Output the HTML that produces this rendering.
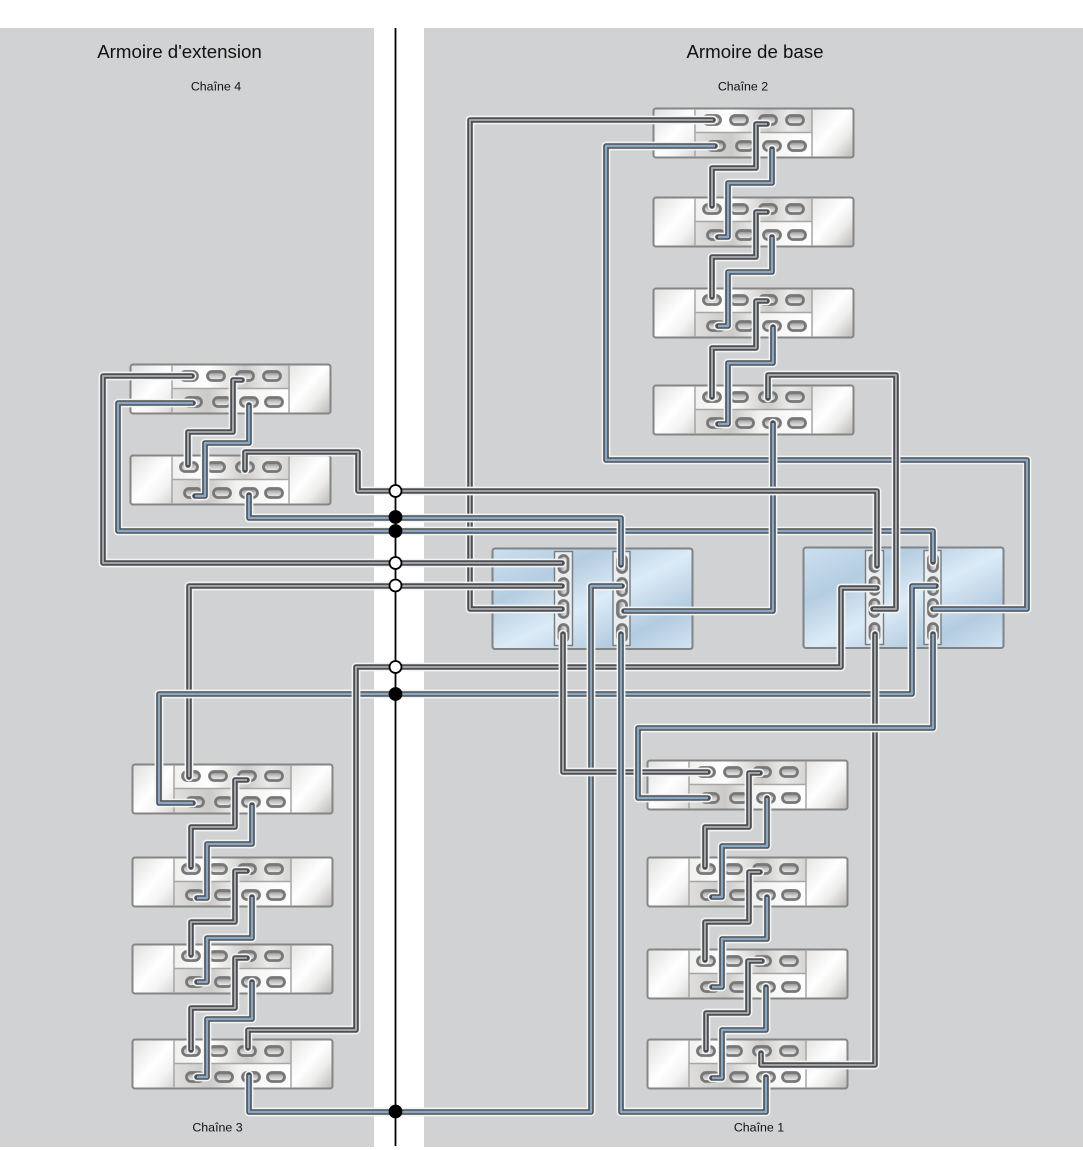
<!DOCTYPE html>
<html><head><meta charset="utf-8">
<style>
html,body{margin:0;padding:0;background:#fff}
svg{display:block}
text{font-family:"Liberation Sans",sans-serif;fill:#111}
.h,.d,.g,.b{fill:none;stroke-linejoin:round;stroke-linecap:round}
.h{stroke:#f2f3f3;stroke-width:8.8}
.d{stroke:#4c4f54;stroke-width:5.6}
.g{stroke:#aeafb2;stroke-width:1.8;stroke-linecap:butt}
.b{stroke:#8aa8c3;stroke-width:2.4;stroke-linecap:butt}
</style></head><body>
<svg width="1083" height="1150" viewBox="0 0 1083 1150" xmlns="http://www.w3.org/2000/svg">
<defs>
<linearGradient id="sl" x1="0" y1="0" x2="1" y2="1">
<stop offset="0" stop-color="#dededd"/><stop offset=".5" stop-color="#fff"/><stop offset=".72" stop-color="#f4f4f4"/><stop offset="1" stop-color="#d2d2d1"/>
</linearGradient>
<linearGradient id="sr" x1="0" y1="0" x2="1" y2="1">
<stop offset="0" stop-color="#e4e4e3"/><stop offset=".45" stop-color="#fff"/><stop offset=".68" stop-color="#ededec"/><stop offset="1" stop-color="#b9b8b6"/>
</linearGradient>
<linearGradient id="md" x1="0" y1="0" x2="1" y2="0">
<stop offset="0" stop-color="#f0f0ef"/><stop offset=".3" stop-color="#fff"/><stop offset=".62" stop-color="#cdccca"/><stop offset=".8" stop-color="#eaeae9"/><stop offset="1" stop-color="#d6d5d3"/>
</linearGradient>
<linearGradient id="md2" x1="0" y1="0" x2="1" y2="0">
<stop offset="0" stop-color="#dfdedc"/><stop offset=".3" stop-color="#cbcac8"/><stop offset=".55" stop-color="#f2f2f1"/><stop offset="1" stop-color="#fff"/>
</linearGradient>
<linearGradient id="bl" x1="0" y1="0" x2="1" y2="1">
<stop offset="0" stop-color="#cbe0f1"/><stop offset=".28" stop-color="#b5cde1"/><stop offset=".52" stop-color="#dcebf7"/><stop offset=".78" stop-color="#b3cbe0"/><stop offset="1" stop-color="#d2e4f3"/>
</linearGradient>
<linearGradient id="pt" x1="0" y1="0" x2="0" y2="1">
<stop offset="0" stop-color="#7d7d7d"/><stop offset=".45" stop-color="#c4c4c4"/><stop offset="1" stop-color="#f4f4f4"/>
</linearGradient>
<linearGradient id="pv" x1="0" y1="0" x2="1" y2="0">
<stop offset="0" stop-color="#7d7d7d"/><stop offset=".5" stop-color="#c4c4c4"/><stop offset="1" stop-color="#f4f4f4"/>
</linearGradient>
<rect id="ph" x="-8.5" y="-4.5" width="17" height="9" rx="4.5" fill="url(#pt)" stroke="#777" stroke-width="2.8"/>
<rect id="pw" x="-4.5" y="-8.5" width="9" height="17" rx="4.5" fill="url(#pv)" stroke="#777" stroke-width="2.8"/>
<g id="unit">
<rect x="0.5" y="0.5" width="42.5" height="49" fill="url(#sl)"/>
<rect x="159" y="0.5" width="41.5" height="49" fill="url(#sr)"/>
<rect x="43" y="0.5" width="116" height="24.5" fill="url(#md)"/>
<rect x="43" y="25" width="116" height="24.5" fill="url(#md2)"/>
<rect x="0.5" y="0.5" width="200" height="49" rx="2.5" fill="none" stroke="#858585" stroke-width="2"/>
<path d="M42 1V49M159 1V49M42 24.5H159" stroke="#a6a6a6" stroke-width="1.5" fill="none"/>
<use href="#ph" x="59" y="12"/><use href="#ph" x="86" y="12"/><use href="#ph" x="115" y="12"/><use href="#ph" x="142" y="12"/>
<use href="#ph" x="63" y="38"/><use href="#ph" x="92" y="38"/><use href="#ph" x="119" y="38"/><use href="#ph" x="144" y="38"/>
</g>
<g id="ctrl">
<rect x="0.5" y="0.5" width="200" height="100.5" rx="2.5" fill="url(#bl)" stroke="#7f8386" stroke-width="2"/>
<rect x="62.5" y="3.5" width="18" height="94" fill="#e9edf0" stroke="#767b7f" stroke-width="1.4"/>
<rect x="121" y="3.5" width="17" height="94" fill="#e9edf0" stroke="#767b7f" stroke-width="1.4"/>
<use href="#pw" x="71.5" y="16"/><use href="#pw" x="71.5" y="39"/><use href="#pw" x="71.5" y="61"/><use href="#pw" x="71.5" y="85"/>
<use href="#pw" x="130" y="16"/><use href="#pw" x="130" y="39"/><use href="#pw" x="130" y="61"/><use href="#pw" x="130" y="85"/>
</g>
<path id="c1" d="M713 120H470V609H562"/>
<path id="c2" d="M715 146H606V460H1027V609H933"/>
<path id="c3" d="M767 124H756V168H712V206"/>
<path id="c4" d="M772 149V183H728V237H718"/>
<path id="c5" d="M767 212H756V257H712V297"/>
<path id="c6" d="M772 237V272H728V326H718"/>
<path id="c7" d="M767 301H756V348H712V397"/>
<path id="c8" d="M773 327V363H728V424H718"/>
<path id="c9" d="M768 398V375H896V609H873"/>
<path id="c10" d="M773 423V611H624"/>
<path id="c11" d="M192 376H103V563H562"/>
<path id="c12" d="M193 403H118V531H933V562"/>
<path id="c13" d="M242 380H233V432H188V465"/>
<path id="c14" d="M249 405V443H205V496H195"/>
<path id="c15" d="M245 470V452H358V491H877V566"/>
<path id="c16" d="M249 495V518H621V565"/>
<path id="c17" d="M189 777V586H562"/>
<path id="c18" d="M193 803H159V694H912V586H936"/>
<path id="c19" d="M247 780H235V827H191V867"/>
<path id="c20" d="M252 805V844H207V898H197"/>
<path id="c21" d="M247 871H235V922H191V955"/>
<path id="c22" d="M252 897V938H207V982H197"/>
<path id="c23" d="M247 958H235V1008H191V1050"/>
<path id="c24" d="M252 982V1019H207V1077H197"/>
<path id="c25" d="M248 1048V1030H356V667H841V588H877"/>
<path id="c26" d="M249 1075V1112H591V586H622"/>
<path id="c27" d="M708 772H563V634"/>
<path id="c28" d="M708 798H638V728H933V634"/>
<path id="c29" d="M760 773H749V827H705V867"/>
<path id="c30" d="M767 798V846H722V897H712"/>
<path id="c31" d="M760 872H749V922H705V960"/>
<path id="c32" d="M767 897V939H722V987H712"/>
<path id="c33" d="M762 961H748V1013H706V1050"/>
<path id="c34" d="M766 987V1030H722V1078H712"/>
<path id="c35" d="M761 1053V1065H875V634"/>
<path id="c36" d="M766 1077V1112H621V634"/>
</defs>

<rect x="0" y="28" width="374" height="1119" fill="#d1d2d3"/>
<rect x="424" y="28" width="659" height="1119" fill="#d1d2d3"/>

<text x="179.5" y="58" font-size="18.7" text-anchor="middle">Armoire d'extension</text>
<text x="755" y="58" font-size="18.7" text-anchor="middle">Armoire de base</text>
<text x="216" y="90.5" font-size="12.4" text-anchor="middle">Chaîne 4</text>
<text x="743" y="90.5" font-size="12.4" text-anchor="middle">Chaîne 2</text>
<text x="217.5" y="1131.5" font-size="12.4" text-anchor="middle">Chaîne 3</text>
<text x="759" y="1131.5" font-size="12.4" text-anchor="middle">Chaîne 1</text>

<use href="#unit" x="653" y="108"/>
<use href="#unit" x="653" y="197"/>
<use href="#unit" x="653" y="288"/>
<use href="#unit" x="653" y="385"/>
<use href="#unit" x="130" y="364"/>
<use href="#unit" x="130" y="455"/>
<use href="#unit" x="132" y="764"/>
<use href="#unit" x="132" y="857"/>
<use href="#unit" x="132" y="944"/>
<use href="#unit" x="132" y="1039"/>
<use href="#unit" x="647" y="760"/>
<use href="#unit" x="647" y="857"/>
<use href="#unit" x="647" y="949"/>
<use href="#unit" x="647" y="1039"/>
<use href="#ctrl" x="492" y="548"/>
<use href="#ctrl" x="803" y="547"/>

<use href="#c1" class="h"/><use href="#c1" class="d"/><use href="#c1" class="g"/>
<use href="#c2" class="h"/><use href="#c2" class="d"/><use href="#c2" class="b"/>
<use href="#c11" class="h"/><use href="#c11" class="d"/><use href="#c11" class="g"/>
<use href="#c17" class="h"/><use href="#c17" class="d"/><use href="#c17" class="g"/>
<use href="#c12" class="h"/><use href="#c12" class="d"/><use href="#c12" class="b"/>
<use href="#c18" class="h"/><use href="#c18" class="d"/><use href="#c18" class="b"/>
<use href="#c25" class="h"/><use href="#c25" class="d"/><use href="#c25" class="g"/>
<use href="#c26" class="h"/><use href="#c26" class="d"/><use href="#c26" class="b"/>
<use href="#c27" class="h"/><use href="#c27" class="d"/><use href="#c27" class="g"/>
<use href="#c35" class="h"/><use href="#c35" class="d"/><use href="#c35" class="g"/>
<use href="#c36" class="h"/><use href="#c36" class="d"/><use href="#c36" class="b"/>
<use href="#c28" class="h"/><use href="#c28" class="d"/><use href="#c28" class="b"/>
<use href="#c10" class="h"/><use href="#c10" class="d"/><use href="#c10" class="b"/>
<use href="#c9" class="h"/><use href="#c9" class="d"/><use href="#c9" class="g"/>
<use href="#c15" class="h"/><use href="#c15" class="d"/><use href="#c15" class="g"/>
<use href="#c16" class="h"/><use href="#c16" class="d"/><use href="#c16" class="b"/>
<use href="#c3" class="h"/><use href="#c3" class="d"/><use href="#c3" class="g"/>
<use href="#c4" class="h"/><use href="#c4" class="d"/><use href="#c4" class="b"/>
<use href="#c5" class="h"/><use href="#c5" class="d"/><use href="#c5" class="g"/>
<use href="#c6" class="h"/><use href="#c6" class="d"/><use href="#c6" class="b"/>
<use href="#c7" class="h"/><use href="#c7" class="d"/><use href="#c7" class="g"/>
<use href="#c8" class="h"/><use href="#c8" class="d"/><use href="#c8" class="b"/>
<use href="#c13" class="h"/><use href="#c13" class="d"/><use href="#c13" class="g"/>
<use href="#c14" class="h"/><use href="#c14" class="d"/><use href="#c14" class="b"/>
<use href="#c19" class="h"/><use href="#c19" class="d"/><use href="#c19" class="g"/>
<use href="#c20" class="h"/><use href="#c20" class="d"/><use href="#c20" class="b"/>
<use href="#c21" class="h"/><use href="#c21" class="d"/><use href="#c21" class="g"/>
<use href="#c22" class="h"/><use href="#c22" class="d"/><use href="#c22" class="b"/>
<use href="#c23" class="h"/><use href="#c23" class="d"/><use href="#c23" class="g"/>
<use href="#c24" class="h"/><use href="#c24" class="d"/><use href="#c24" class="b"/>
<use href="#c29" class="h"/><use href="#c29" class="d"/><use href="#c29" class="g"/>
<use href="#c30" class="h"/><use href="#c30" class="d"/><use href="#c30" class="b"/>
<use href="#c31" class="h"/><use href="#c31" class="d"/><use href="#c31" class="g"/>
<use href="#c32" class="h"/><use href="#c32" class="d"/><use href="#c32" class="b"/>
<use href="#c33" class="h"/><use href="#c33" class="d"/><use href="#c33" class="g"/>
<use href="#c34" class="h"/><use href="#c34" class="d"/><use href="#c34" class="b"/>

<path d="M395.5 28V1146" stroke="#000" stroke-width="1.8" fill="none"/>
<g stroke="#000" stroke-width="1.8">
<circle cx="395.5" cy="491" r="6" fill="#fff"/>
<circle cx="395.5" cy="517" r="6" fill="#000"/>
<circle cx="395.5" cy="531" r="6" fill="#000"/>
<circle cx="395.5" cy="563" r="6" fill="#fff"/>
<circle cx="395.5" cy="585.5" r="6" fill="#fff"/>
<circle cx="395.5" cy="667" r="6" fill="#fff"/>
<circle cx="395.5" cy="694" r="6" fill="#000"/>
<circle cx="395.5" cy="1111.5" r="6" fill="#000"/>
</g>
</svg>
</body></html>
